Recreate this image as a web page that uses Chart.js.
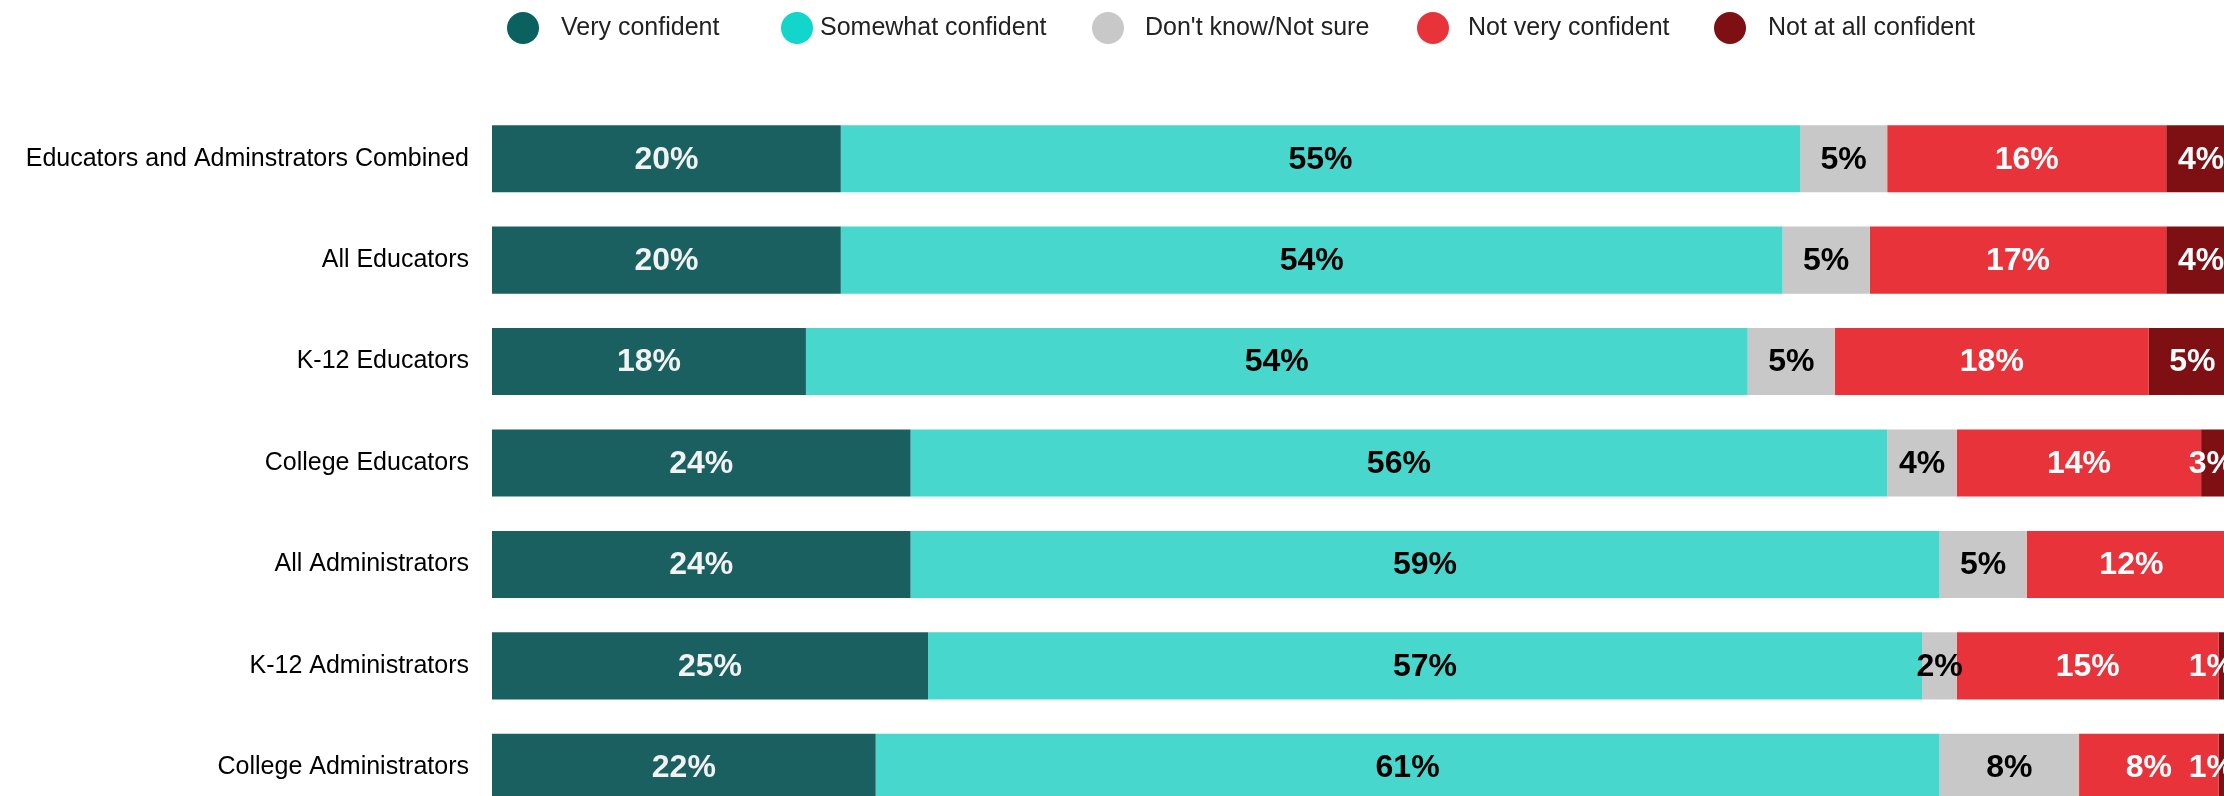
<!DOCTYPE html>
<html lang="en">
<head>
  <meta charset="UTF-8" />
  <title>Confidence by group</title>
  <script src="https://cdn.jsdelivr.net/npm/chart.js"></script>
  <style>
    html, body { margin: 0; padding: 0; background: #fff; overflow: hidden; }
    .chart-wrap { position: relative; width: 2236px; height: 856px; }
  </style>
</head>
<body>

<div class="chart-wrap">
  <canvas id="confidenceChart"></canvas>
</div>

<script>
  // data (percent of respondents)
  const groups = [
    'Educators and Adminstrators Combined',
    'All Educators',
    'K-12 Educators',
    'College Educators',
    'All Administrators',
    'K-12 Administrators',
    'College Administrators'
  ];
  const veryConfident     = [20, 20, 18, 24, 24, 25, 22];
  const somewhatConfident = [55, 54, 54, 56, 59, 57, 61];
  const dontKnow          = [5, 5, 5, 4, 5, 2, 8];
  const notVeryConfident  = [16, 17, 18, 14, 12, 15, 8];
  const notAtAllConfident = [4, 4, 5, 3, 0, 1, 1];

  const seriesNames = ['Very confident', 'Somewhat confident', "Don't know/Not sure", 'Not very confident', 'Not at all confident'];
  const barColors    = ['#1b6060', '#48d7cc', '#c8c8c8', '#e8333a', '#7e0f12'];
  const legendColors = ['#0b6160', '#12d6cc', '#c8c8c8', '#e8333a', '#7e0f12'];
  const labelColors  = ['#f2f2f2', '#000000', '#000000', '#ffffff', '#ffffff'];

  // legend item placement (marker left edge, text left edge)
  const legendMarkerX = [507, 781, 1092, 1417, 1714];
  const legendTextX   = [561, 820, 1145, 1468, 1768];

  const FONT = "'Liberation Sans', Arial, sans-serif";

  // percentage labels centred in each segment, kept inside the plot on the right
  const segmentLabels = {
    id: 'segmentLabels',
    afterDatasetsDraw(chart) {
      const ctx = chart.ctx;
      const area = chart.chartArea;
      ctx.save();
      ctx.font = 'bold 32px ' + FONT;
      ctx.textAlign = 'center';
      ctx.textBaseline = 'middle';
      chart.data.datasets.forEach((ds, di) => {
        const meta = chart.getDatasetMeta(di);
        meta.data.forEach((bar, i) => {
          const v = ds.data[i];
          if (!v) return;
          const txt = v + '%';
          const w = ctx.measureText(txt).width;
          let x = (bar.x + bar.base) / 2;
          x = Math.min(x, area.right - w / 2 - 1);
          ctx.fillStyle = labelColors[di];
          ctx.fillText(txt, x, bar.y + 1);
        });
      });
      ctx.restore();
    }
  };

  // legend row with round markers
  const circleLegend = {
    id: 'circleLegend',
    afterDraw(chart) {
      const ctx = chart.ctx;
      ctx.save();
      ctx.font = '25px ' + FONT;
      ctx.textBaseline = 'middle';
      ctx.textAlign = 'left';
      const y = 28;
      const r = 16;
      seriesNames.forEach((name, i) => {
        ctx.fillStyle = legendColors[i];
        ctx.beginPath();
        ctx.arc(legendMarkerX[i] + r, y, r, 0, Math.PI * 2);
        ctx.fill();
        ctx.fillStyle = '#222';
        ctx.fillText(name, legendTextX[i], y);
      });
      ctx.restore();
    }
  };

  new Chart(document.getElementById('confidenceChart'), {
    type: 'bar',
    data: {
      labels: groups,
      datasets: [veryConfident, somewhatConfident, dontKnow, notVeryConfident, notAtAllConfident].map((d, i) => ({
        label: seriesNames[i],
        data: d,
        backgroundColor: barColors[i],
        borderWidth: 0,
        barPercentage: 0.661,
        categoryPercentage: 1
      }))
    },
    options: {
      indexAxis: 'y',
      responsive: true,
      maintainAspectRatio: false,
      animation: false,
      layout: { padding: { top: 108, right: 0, bottom: 0, left: 0 } },
      plugins: {
        legend: { display: false },
        tooltip: { enabled: false }
      },
      scales: {
        x: {
          stacked: true,
          min: 0,
          max: 100,
          display: false
        },
        y: {
          stacked: true,
          grid: { display: false, drawTicks: false },
          border: { display: false },
          afterFit(scale) { scale.width = 492; },
          ticks: {
            color: '#000',
            padding: 23,
            font: { family: FONT, size: 25 }
          }
        }
      }
    },
    plugins: [segmentLabels, circleLegend]
  });
</script>
</body>
</html>
